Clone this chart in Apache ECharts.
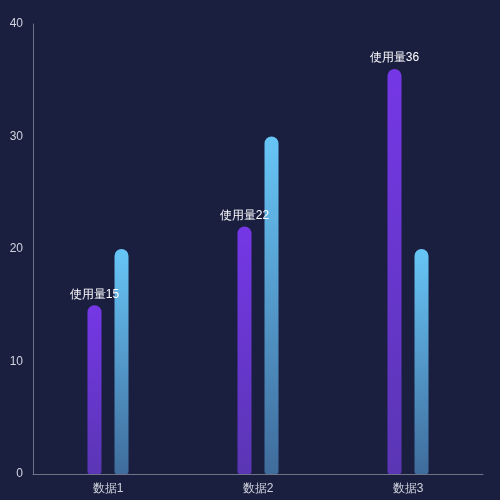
<!DOCTYPE html>
<html><head><meta charset="utf-8">
<script src="https://cdn.jsdelivr.net/npm/echarts@6/dist/echarts.min.js"></script>
<style>html,body{margin:0;background:#1a1f40}#c{width:500px;height:500px}</style>
</head><body><div id="c"></div>
<script>
const categories=['数据1','数据2','数据3'];
const usage=[15,22,36];
const other=[20,30,20];
const yTicks=[0,10,20,30,40];
const chart=echarts.init(document.getElementById('c'));
const G=echarts.graphic.LinearGradient;
chart.setOption({
  backgroundColor:'#1a1f40',
  grid:{left:33,right:17,top:24,bottom:26},
  xAxis:{type:'category',data:categories,
    axisLine:{lineStyle:{color:'#6e7386'}},axisTick:{show:false},
    axisLabel:{color:'#d0d3dc',fontSize:12,margin:9}},
  yAxis:{type:'value',min:yTicks[0],max:yTicks[yTicks.length-1],interval:10,
    axisLine:{show:true,lineStyle:{color:'#6e7386'}},splitLine:{show:false},
    axisLabel:{color:'#d0d3dc',fontSize:12,margin:10,align:'right'}},
  series:[
    {type:'bar',data:usage,barWidth:14,barGap:'93%',
     itemStyle:{borderRadius:[7,7,2,2],color:new G(0,0,0,1,[{offset:0,color:'#7537e6'},{offset:1,color:'#5a36b4'}])},
     label:{show:true,position:'top',color:'#ffffff',fontSize:12,formatter:p=>'使用量'+p.value}},
    {type:'bar',data:other,barWidth:14,
     itemStyle:{borderRadius:[7,7,2,2],color:new G(0,0,0,1,[{offset:0,color:'#67c6f7'},{offset:1,color:'#3f6c9c'}])}}
  ]
});
</script></body></html>
